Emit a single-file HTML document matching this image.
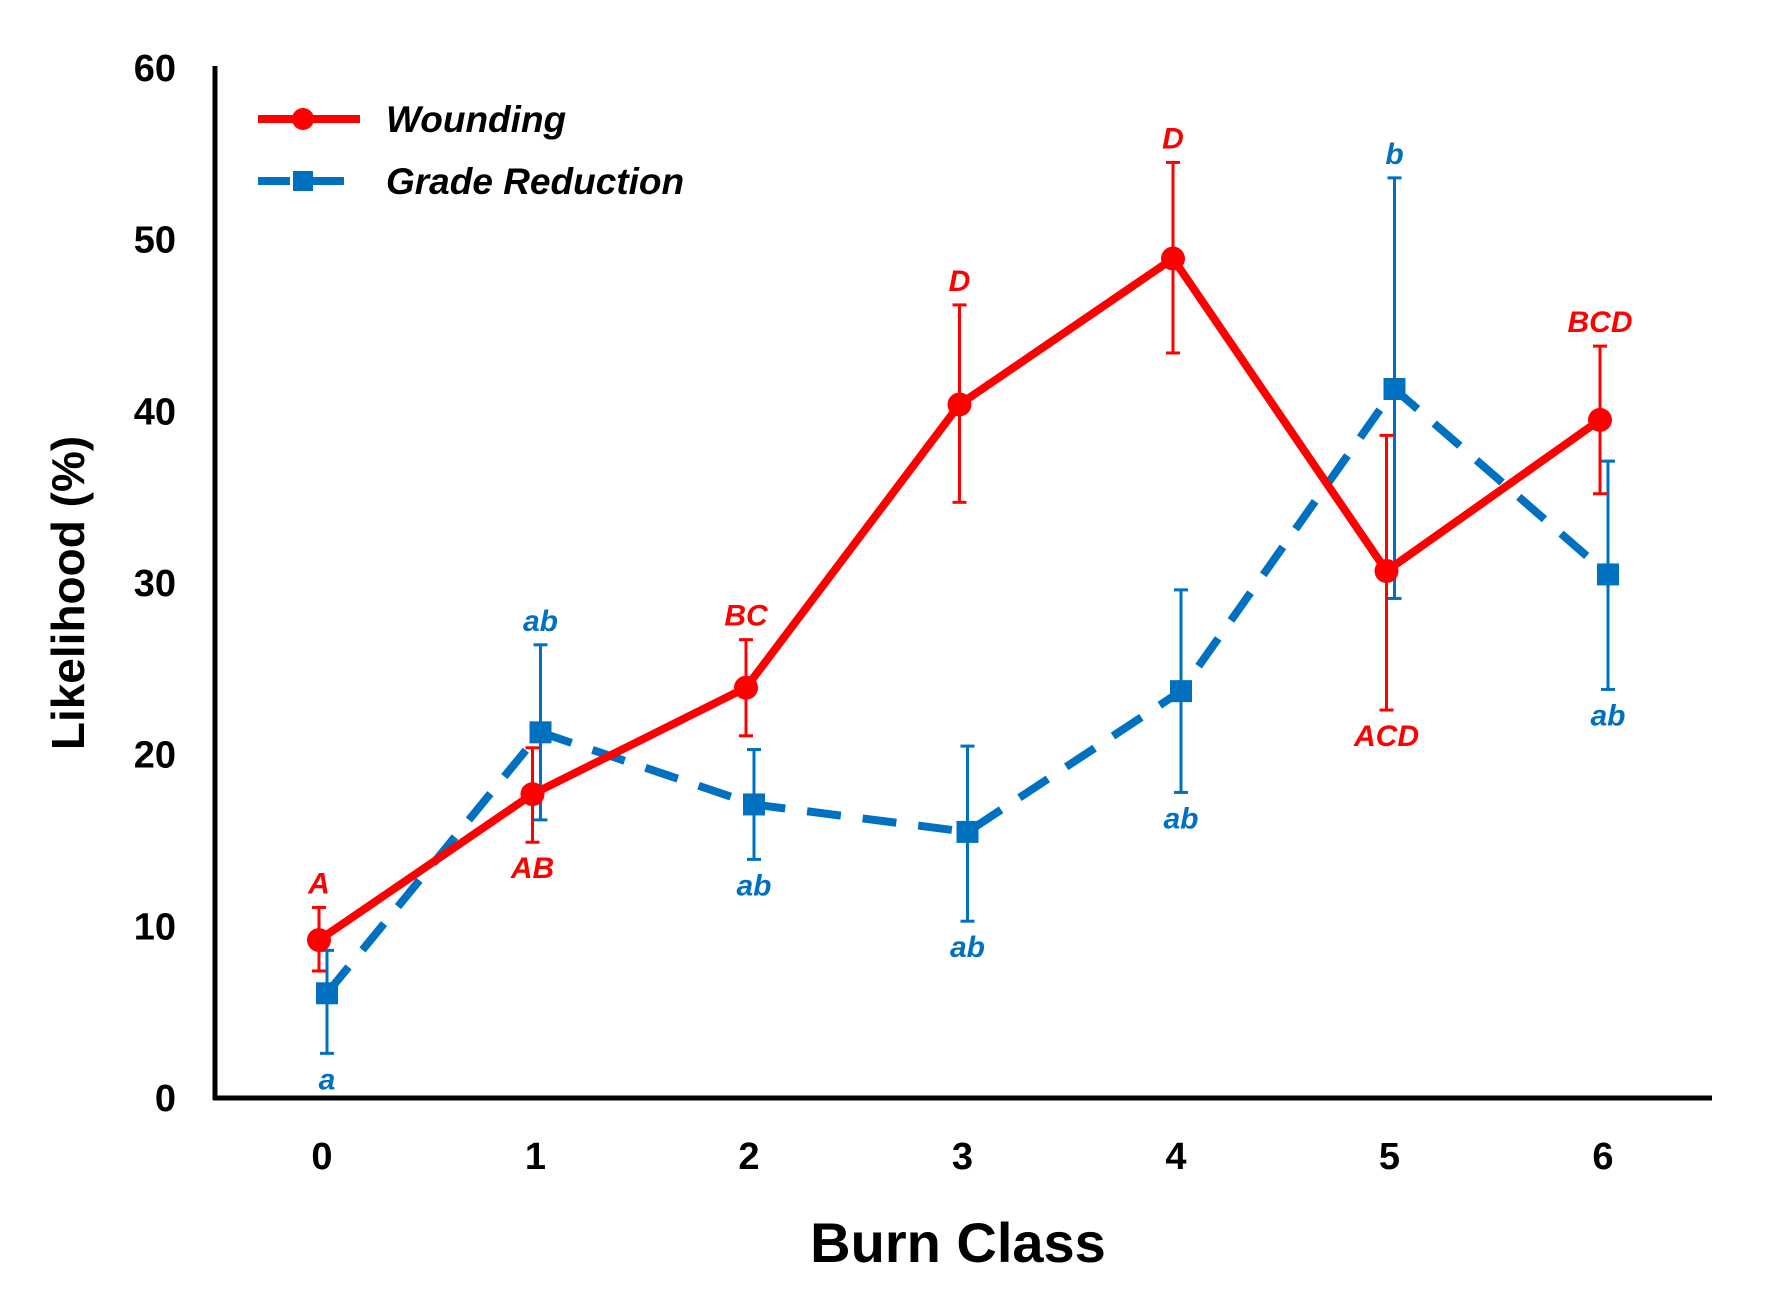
<!DOCTYPE html>
<html><head><meta charset="utf-8"><style>
html,body{margin:0;padding:0;background:#fff;}
svg{display:block;font-family:"Liberation Sans",sans-serif;}
</style></head><body>
<svg id="chart" width="1771" height="1289" viewBox="0 0 1771 1289" xmlns="http://www.w3.org/2000/svg">
<g id="axes"></g>
<g id="series"></g>
<g id="legend">
 <line x1="258" y1="119" x2="360" y2="119" stroke="#ff0000" stroke-width="8"/>
 <circle cx="303" cy="119" r="11" fill="#ff0000"/>
 <text x="386" y="132" font-size="37" font-weight="bold" font-style="italic" fill="#000">Wounding</text>
 <line x1="258" y1="181" x2="360" y2="181" stroke="#0070c0" stroke-width="8" stroke-dasharray="32 22"/>
 <rect x="293" y="171" width="20" height="20" fill="#0070c0"/>
 <text x="386" y="194" font-size="37" font-weight="bold" font-style="italic" fill="#000">Grade Reduction</text>
</g>
</svg>
<script>
const categories = ["0","1","2","3","4","5","6"];
const yTicks = [0,10,20,30,40,50,60];
const woundingValues = [9.2,17.7,23.9,40.4,48.9,30.7,39.5];
const woundingUpper = [11.1,20.4,26.7,46.2,54.5,38.6,43.8];
const woundingLower = [7.4,14.9,21.1,34.7,43.4,22.6,35.2];
const woundingLetters = ["A","AB","BC","D","D","ACD","BCD"];
const woundingLetterAbove = [true,false,true,true,true,false,true];
const gradeValues = [6.1,21.3,17.1,15.5,23.7,41.3,30.5];
const gradeUpper = [8.6,26.4,20.3,20.5,29.6,53.6,37.1];
const gradeLower = [2.6,16.2,13.9,10.3,17.8,29.1,23.8];
const gradeLetters = ["a","ab","ab","ab","ab","b","ab"];
const gradeLetterAbove = [false,true,false,false,false,true,false];

const NS="http://www.w3.org/2000/svg";
const x0=322, dx=213.5, yBase=1098, yTop=68;
function xScale(i){return x0+i*dx;}
function yScale(v){return yBase-(v/60)*(yBase-yTop);}
function mk(tag,attrs,parent){const e=document.createElementNS(NS,tag);for(const k in attrs)e.setAttribute(k,attrs[k]);parent.appendChild(e);return e;}
const axes=document.getElementById('axes'), series=document.getElementById('series');

let e=mk('line',{x1:215,y1:yTop-2,x2:215,y2:yBase+2,stroke:'#000','stroke-width':5},axes);


e=mk('line',{x1:213,y1:yBase,x2:1712,y2:yBase,stroke:'#000','stroke-width':5},axes);


yTicks.forEach(v=>{
  const t=mk('text',{x:176,y:yScale(v)+13,'text-anchor':'end','font-size':38,'font-weight':'bold'},axes);
  t.textContent=v;
  
  
});
categories.forEach((c,i)=>{
  const t=mk('text',{x:xScale(i),y:1169,'text-anchor':'middle','font-size':38,'font-weight':'bold'},axes);
  t.textContent=c;
  
  
});
e=mk('text',{x:958,y:1262,'text-anchor':'middle','font-size':56,'font-weight':'bold'},axes);
e.textContent='Burn Class';


e=mk('text',{x:0,y:0,'text-anchor':'middle','font-size':46,'font-weight':'bold',transform:'translate(84,593) rotate(-90)'},axes);
e.textContent='Likelihood (%)';



function drawSeries(name,vals,up,lo,letters,above,color,off,dashed,square){
  const g=mk('g',{},series);
  
  
  vals.forEach((v,i)=>{
    const x=xScale(i)+off;
    const b=mk('g',{stroke:color,'stroke-width':3},g);
    
    
    mk('line',{x1:x,y1:yScale(up[i]),x2:x,y2:yScale(lo[i])},b);
    mk('line',{x1:x-7,y1:yScale(up[i]),x2:x+7,y2:yScale(up[i])},b);
    mk('line',{x1:x-7,y1:yScale(lo[i]),x2:x+7,y2:yScale(lo[i])},b);
  });
  const pts=vals.map((v,i)=>(xScale(i)+off)+','+yScale(v)).join(' ');
  const pl=mk('polyline',{points:pts,fill:'none',stroke:color,'stroke-width':8,'stroke-linejoin':'round'},g);
  if(dashed)pl.setAttribute('stroke-dasharray','34 22');
  
  
  vals.forEach((v,i)=>{
    const x=xScale(i)+off,y=yScale(v);
    let m;
    if(square)m=mk('rect',{x:x-11,y:y-11,width:22,height:22,fill:color},g);
    else m=mk('circle',{cx:x,cy:y,r:12,fill:color},g);
    
    
    const ly=above[i]?yScale(up[i])-14:yScale(lo[i])+36;
    const t=mk('text',{x:x,y:ly,'text-anchor':'middle','font-size':30,'font-weight':'bold','font-style':'italic',fill:color},g);
    t.textContent=letters[i];
    
    
  });
}
drawSeries('grade-reduction',gradeValues,gradeUpper,gradeLower,gradeLetters,gradeLetterAbove,'#0070c0',5,true,true);
drawSeries('wounding',woundingValues,woundingUpper,woundingLower,woundingLetters,woundingLetterAbove,'#ff0000',-3,false,false);
</script>
</body></html>
